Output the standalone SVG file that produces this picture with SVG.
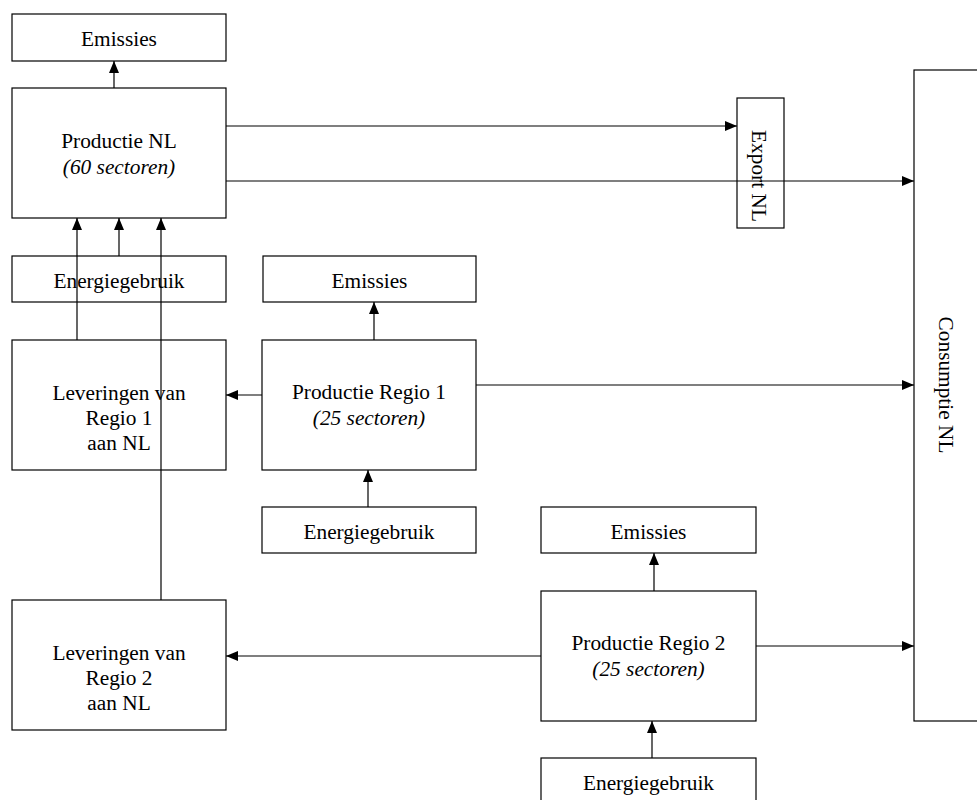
<svg xmlns="http://www.w3.org/2000/svg" width="977" height="800" viewBox="0 0 977 800">
<defs>
<style>
.box{fill:#fff;stroke:#000;stroke-width:1.2}
.t{font-family:"Liberation Serif","Times New Roman",serif;font-size:21.33px;fill:#000;text-anchor:middle}
.i{font-style:italic}
.c{fill:none;stroke:#000;stroke-width:1.2}
</style>
<marker id="ah" viewBox="0 0 12 10" refX="12" refY="5" markerWidth="12" markerHeight="10" markerUnits="userSpaceOnUse" orient="auto">
<path d="M0,0 L12,5 L0,10 Z" fill="#000"/>
</marker>
</defs>
<rect width="977" height="800" fill="#fff"/>
<g id="nodes">
<g id="emissies-nl"><rect class="box" x="12" y="14" width="214" height="47"/><text class="t" x="119" y="46">Emissies</text></g>
<g id="productie-nl"><rect class="box" x="12" y="88" width="214" height="130"/><text class="t" x="119" y="148">Productie NL</text><text class="t i" x="119" y="174">(60 sectoren)</text></g>
<g id="energie-nl"><rect class="box" x="12" y="256" width="214" height="46"/><text class="t" x="119" y="288">Energiegebruik</text></g>
<g id="export-nl"><rect class="box" x="737" y="98" width="47" height="130"/><text class="t" transform="translate(752,176) rotate(90)" x="0" y="0">Export NL</text></g>
<g id="consumptie-nl"><rect class="box" x="914" y="70" width="100" height="651"/><text class="t" transform="translate(939,385) rotate(90)" x="0" y="0">Consumptie NL</text></g>
<g id="emissies-r1"><rect class="box" x="263" y="256" width="213" height="46"/><text class="t" x="369.5" y="288">Emissies</text></g>
<g id="productie-r1"><rect class="box" x="262" y="340" width="214" height="130"/><text class="t" x="369" y="399">Productie Regio 1</text><text class="t i" x="369" y="425">(25 sectoren)</text></g>
<g id="energie-r1"><rect class="box" x="262" y="507" width="214" height="46"/><text class="t" x="369" y="539">Energiegebruik</text></g>
<g id="leveringen-r1"><rect class="box" x="12" y="340" width="214" height="130"/><text class="t" x="119" y="400">Leveringen van</text><text class="t" x="119" y="425">Regio 1</text><text class="t" x="119" y="450">aan NL</text></g>
<g id="emissies-r2"><rect class="box" x="541" y="507" width="215" height="46"/><text class="t" x="648.5" y="539">Emissies</text></g>
<g id="productie-r2"><rect class="box" x="541" y="591" width="215" height="130"/><text class="t" x="648.5" y="650">Productie Regio 2</text><text class="t i" x="648.5" y="676">(25 sectoren)</text></g>
<g id="energie-r2"><rect class="box" x="541" y="758" width="215" height="60"/><text class="t" x="648.5" y="790">Energiegebruik</text></g>
<g id="leveringen-r2"><rect class="box" x="12" y="600" width="214" height="130"/><text class="t" x="119" y="660">Leveringen van</text><text class="t" x="119" y="685">Regio 2</text><text class="t" x="119" y="710">aan NL</text></g>
</g>
<g id="connectors">
<line class="c" x1="114" y1="88" x2="114" y2="61" marker-end="url(#ah)"/>
<line class="c" x1="119" y1="256" x2="119" y2="218" marker-end="url(#ah)"/>
<line class="c" x1="77" y1="340" x2="77" y2="218" marker-end="url(#ah)"/>
<line class="c" x1="161" y1="600" x2="161" y2="218" marker-end="url(#ah)"/>
<line class="c" x1="226" y1="126" x2="737" y2="126" marker-end="url(#ah)"/>
<line class="c" x1="226" y1="181" x2="914" y2="181" marker-end="url(#ah)"/>
<line class="c" x1="374" y1="340" x2="374" y2="302" marker-end="url(#ah)"/>
<line class="c" x1="368" y1="507" x2="368" y2="470" marker-end="url(#ah)"/>
<line class="c" x1="262" y1="395" x2="226" y2="395" marker-end="url(#ah)"/>
<line class="c" x1="476" y1="385" x2="914" y2="385" marker-end="url(#ah)"/>
<line class="c" x1="654" y1="591" x2="654" y2="553" marker-end="url(#ah)"/>
<line class="c" x1="652" y1="758" x2="652" y2="721" marker-end="url(#ah)"/>
<line class="c" x1="541" y1="656" x2="226" y2="656" marker-end="url(#ah)"/>
<line class="c" x1="756" y1="646" x2="914" y2="646" marker-end="url(#ah)"/>
</g>
</svg>
